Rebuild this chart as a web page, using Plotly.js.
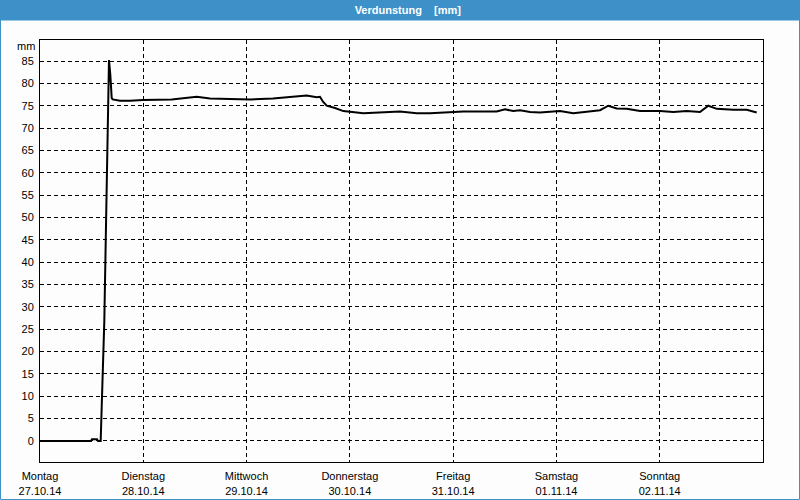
<!DOCTYPE html>
<html>
<head>
<meta charset="utf-8">
<script src="https://cdn.plot.ly/plotly-3.0.1.min.js"></script>
<style>
  html, body { margin: 0; padding: 0; background: #fcfdfc; }
  #chart { width: 800px; height: 500px; }
</style>
</head>
<body>
<div id="chart"></div>
<script>
// Hours since Monday 27.10.14 00:00
const hours = [0, 11.85, 12.08, 13.25, 13.48, 14.1, 14.34, 14.71, 14.94, 15.27, 15.5, 15.73, 16.03, 16.34, 16.66, 16.89,
  18.59, 20.91, 23.93, 30.6, 32.53, 36.41, 39.5, 46.47, 48.8, 54.14, 57.33, 61.97, 64.3, 65.06, 65.76, 66.62, 68.55,
  70.48, 75.13, 78.24, 83.65, 87.53, 90.62, 98.36, 103.8, 106.12, 108.05, 109.98, 111.54, 113.86, 116.19, 120.83,
  123.92, 127.8, 130.13, 132.06, 134.0, 136.33, 139.42, 144.07, 147.16, 150.27, 153.36, 155.29, 157.25, 161.1,
  164.22, 166.54];
const evaporation = [0, 0, 0.4, 0.4, 0, 0, 7.7, 17, 26.7, 44.6, 58, 72.3, 85.2, 81.9, 76.7, 76.4,
  76.1, 76.1, 76.3, 76.4, 76.6, 77.0, 76.6, 76.4, 76.4, 76.6, 76.9, 77.3, 76.9, 77.0, 75.9, 75.0, 74.5,
  73.8, 73.3, 73.5, 73.7, 73.3, 73.3, 73.7, 73.6, 73.7, 74.2, 73.8, 74.0, 73.6, 73.5, 73.8,
  73.3, 73.8, 74.0, 75.0, 74.4, 74.3, 73.8, 73.8, 73.6, 73.8, 73.6, 75.0, 74.3, 74.1,
  74.1, 73.5];

const dayTickVals = [0, 24, 48, 72, 96, 120, 144];
const dayNames = ["Montag", "Dienstag", "Mittwoch", "Donnerstag", "Freitag", "Samstag", "Sonntag"];
const dayDates = ["27.10.14", "28.10.14", "29.10.14", "30.10.14", "31.10.14", "01.11.14", "02.11.14"];
const yTickVals = [0, 5, 10, 15, 20, 25, 30, 35, 40, 45, 50, 55, 60, 65, 70, 75, 80, 85];

const W = 800, H = 500, L = 40, R = 37, T = 40, B = 38;
const pw = W - L - R, ph = H - T - B;
const px = x => (x - L) / pw;
const py = y => (H - B - y) / ph;

const trace = {
  x: hours, y: evaporation, type: 'scatter', mode: 'lines',
  line: { color: '#000000', width: 2 }, hoverinfo: 'skip'
};

const layout = {
  width: W, height: H,
  margin: { l: L, r: R, t: T, b: B, pad: 0 },
  paper_bgcolor: '#fcfdfc', plot_bgcolor: '#fcfdfc',
  font: { family: 'Liberation Sans, Arial, sans-serif', size: 11, color: '#000' },
  showlegend: false,
  title: {
    text: 'Verdunstung\u00A0\u00A0\u00A0\u00A0[mm]',
    font: { family: 'Liberation Sans, Arial, sans-serif', size: 11, color: '#ffffff', weight: 'bold' },
    x: 407 / W, xref: 'paper', xanchor: 'center',
    y: 1 - 10 / H, yref: 'container', yanchor: 'middle'
  },
  xaxis: {
    range: [0, 168], tickvals: dayTickVals,
    ticktext: dayNames.map((d, i) => d + '<br>' + dayDates[i]),
    showgrid: true, gridcolor: '#000', griddash: '4px,3px', gridwidth: 1,
    zeroline: false, showline: true, linecolor: '#000', linewidth: 1, mirror: true,
    ticks: '', ticklabelstandoff: 4, fixedrange: true
  },
  yaxis: {
    range: [-4.7, 89.7], tickvals: yTickVals,
    showgrid: true, gridcolor: '#000', griddash: '4px,3px', gridwidth: 1,
    zeroline: false, showline: true, linecolor: '#000', linewidth: 1, mirror: true,
    ticks: '', ticklabelstandoff: 3, fixedrange: true
  },
  shapes: [
    { type: 'rect', xref: 'paper', yref: 'paper', layer: 'below',
      x0: px(0), x1: px(W), y0: py(20), y1: py(0),
      fillcolor: '#3d91c8', line: { width: 0 } },
    { type: 'rect', xref: 'paper', yref: 'paper', layer: 'above',
      x0: px(0.5), x1: px(W - 0.5), y0: py(H - 0.5), y1: py(20),
      fillcolor: 'rgba(0,0,0,0)', line: { color: '#3d91c8', width: 1 } }
  ],
  annotations: [
    { text: 'mm', xref: 'paper', yref: 'paper', x: px(37), y: py(46),
      xanchor: 'right', yanchor: 'middle', showarrow: false,
      font: { family: 'Liberation Sans, Arial, sans-serif', size: 11, color: '#000' } }
  ]
};

Plotly.newPlot('chart', [trace], layout, { displayModeBar: false, staticPlot: true });
</script>
</body>
</html>
